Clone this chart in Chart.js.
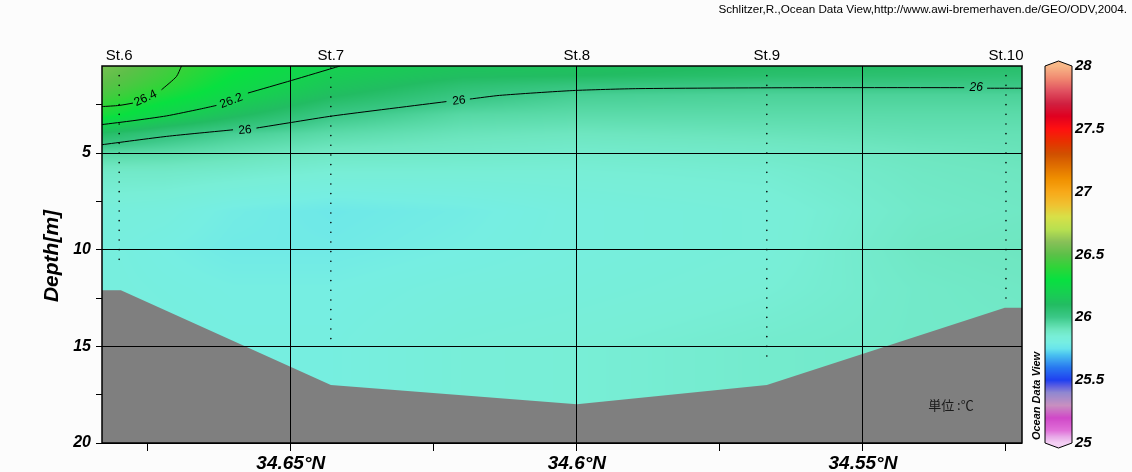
<!DOCTYPE html>
<html>
<head>
<meta charset="utf-8">
<script src="https://cdn.jsdelivr.net/npm/chart.js@4.4.1/dist/chart.umd.min.js"></script>
<style>
  html, body { margin: 0; padding: 0; background: #fcfcfc; }
  #wrap { position: relative; width: 1132px; height: 472px; }
</style>
</head>
<body>
<div id="wrap"><canvas id="odvChart" width="1132" height="472"></canvas></div>
<script>
// stations along the section (latitude, deg N)
const stationNames = ['St.6', 'St.7', 'St.8', 'St.9', 'St.10'];
const stationLats = [34.6800, 34.6430, 34.6000, 34.5668, 34.5250];

// sample depths at each station (m); St.8 samples sit under the 34.6 grid line
const st6Depths = [1, 1.5, 2, 2.5, 3, 3.5, 4, 4.5, 5, 5.5, 6, 6.5, 7, 7.5, 8, 8.5, 9, 9.5, 10, 10.5];
const st7Depths = [0.6, 1.1, 1.6, 2.1, 2.6, 3.1, 3.6, 4.1, 4.6, 5.1, 5.6, 6.1, 6.6, 7.1, 7.6, 8.1, 8.6, 9.1, 9.6, 10.1, 10.6, 11.1, 11.6, 12.1, 12.6, 13.1, 13.6, 14.1, 14.6];
const st8Depths = [];
const st9Depths = [1, 1.5, 2, 2.5, 3, 3.5, 4, 4.5, 5, 5.5, 6, 6.5, 7, 7.5, 8, 8.5, 9, 9.5, 10, 10.5, 11, 11.5, 12, 12.5, 13, 13.5, 14, 14.5, 15, 15.5];
const st10Depths = [1, 1.5, 2, 2.5, 3, 3.5, 4, 4.5, 5, 5.5, 6, 6.5, 7, 7.5, 8, 8.5, 9, 9.5, 10, 10.5, 11, 11.5, 12, 12.5];

// sea bottom
const bottomLats = [34.6830, 34.6797, 34.6430, 34.6000, 34.5668, 34.5252, 34.5222];
const bottomDepths = [12.1, 12.1, 17.0, 18.0, 17.0, 13.0, 13.0];

// gridded temperature (deg C): one column per latitude node
const fieldLats = [34.683, 34.672, 34.660, 34.643, 34.620, 34.600, 34.567, 34.540, 34.522];
const fieldDepths = [0.5, 1, 1.5, 2, 3, 4, 5, 6, 8, 10, 12, 15, 20];
const tempCol1 = [26.56, 26.53, 26.50, 26.46, 26.35, 26.09, 25.95, 25.88, 25.83, 25.82, 25.82, 25.82, 25.82];
const tempCol2 = [26.45, 26.43, 26.40, 26.35, 26.22, 26.03, 25.94, 25.88, 25.82, 25.80, 25.81, 25.82, 25.82];
const tempCol3 = [26.33, 26.30, 26.27, 26.23, 26.12, 25.98, 25.92, 25.87, 25.79, 25.78, 25.80, 25.81, 25.81];
const tempCol4 = [26.21, 26.18, 26.15, 26.11, 26.01, 25.94, 25.89, 25.85, 25.77, 25.78, 25.80, 25.81, 25.81];
const tempCol5 = [26.14, 26.11, 26.06, 26.02, 25.95, 25.91, 25.88, 25.85, 25.79, 25.80, 25.82, 25.84, 25.84];
const tempCol6 = [26.13, 26.10, 26.03, 25.98, 25.94, 25.90, 25.87, 25.85, 25.82, 25.82, 25.83, 25.85, 25.85];
const tempCol7 = [26.10, 26.07, 26.01, 25.97, 25.94, 25.91, 25.88, 25.86, 25.84, 25.84, 25.85, 25.87, 25.87];
const tempCol8 = [26.09, 26.06, 26.01, 25.97, 25.94, 25.92, 25.90, 25.89, 25.88, 25.89, 25.88, 25.88, 25.88];
const tempCol9 = [26.08, 26.05, 26.01, 25.97, 25.94, 25.92, 25.91, 25.90, 25.89, 25.90, 25.89, 25.88, 25.88];
const tempColumns = [tempCol1, tempCol2, tempCol3, tempCol4, tempCol5, tempCol6, tempCol7, tempCol8, tempCol9];

// isotherms (null = gap for the label)
const contour264Lats = [34.6830, 34.6800, 34.6776, null, 34.6726, 34.6700, 34.6691];
const contour264Depths = [2.60, 2.54, 2.42, null, 1.73, 1.05, 0.50];
const contour262Lats = [34.6830, 34.6776, 34.6717, 34.6659, 34.6630, null, 34.6575, 34.6499, 34.6414];
const contour262Depths = [3.53, 3.33, 3.08, 2.73, 2.54, null, 1.90, 1.25, 0.50];
const contour26Lats = [34.6830, 34.6717, 34.6601, null, 34.6560, 34.6499, 34.6426, 34.6228, null, 34.6187, 34.6135, 34.6007, 34.5893, 34.5596, 34.5323, null, 34.5283, 34.5222];
const contour26Depths = [4.57, 4.14, 3.80, null, 3.71, 3.42, 3.08, 2.34, null, 2.21, 2.02, 1.77, 1.67, 1.62, 1.62, null, 1.65, 1.65];

const contourLabelText = ['26.4', '26.2', '26', '26', '26'];
const contourLabelLats = [34.6754, 34.6604, 34.6580, 34.6206, 34.5302];
const contourLabelDepths = [2.17, 2.31, 3.82, 2.30, 1.63];

// axes
const latTicks = [34.675, 34.65, 34.625, 34.6, 34.575, 34.55, 34.525];
const latMajor = [34.65, 34.6, 34.55];
const depthTicks = [2.5, 5, 7.5, 10, 12.5, 15, 17.5, 20];
const depthMajor = [5, 10, 15, 20];

// colour scale
const cmapValues = [25.0, 25.05, 25.1, 25.2, 25.3, 25.4, 25.45, 25.5, 25.6, 25.7, 25.75, 25.8, 25.85, 25.9, 25.95, 26.0, 26.1, 26.2, 26.3, 26.4, 26.5, 26.6, 26.7, 26.8, 26.9, 27.0, 27.1, 27.2, 27.3, 27.4, 27.5, 27.6, 27.7, 27.8, 27.9, 28.0];
const cmapColors = ['#f4d0f4', '#e8a8e8', '#e070d8', '#d048c8', '#c890c0', '#9088d0', '#6060e0', '#2040f0', '#2878f0', '#48c0f0', '#68e4ec', '#76eee2', '#78eed6', '#6ee6c0', '#56d8a4', '#3cc888', '#22bc62', '#16d050', '#08e040', '#30d438', '#5cc048', '#88c058', '#b8e050', '#d8e048', '#f0c030', '#f8a818', '#f09000', '#e07000', '#d05000', '#e83000', '#ff1010', '#e00020', '#d02040', '#e05060', '#f08870', '#f8b888'];

const FONT = "'Liberation Sans', Arial, sans-serif";

function hexRgb(h) {
     return [parseInt(h.substr(1, 2), 16), parseInt(h.substr(3, 2), 16), parseInt(h.substr(5, 2), 16)];
}
const cmapRgb = cmapColors.map(hexRgb);

function tempColor(v) {
     if (v <= cmapValues[0]) return cmapRgb[0];
     const n = cmapValues.length - 1;
     if (v >= cmapValues[n]) return cmapRgb[n];
     let i = 0;
     while (v > cmapValues[i + 1]) i++;
     const t = (v - cmapValues[i]) / (cmapValues[i + 1] - cmapValues[i]);
     const a = cmapRgb[i], b = cmapRgb[i + 1];
     return [a[0] + (b[0] - a[0]) * t, a[1] + (b[1] - a[1]) * t, a[2] + (b[2] - a[2]) * t];
}

function findCell(arr, v, desc) {
     let i = 0;
     if (desc) {
          while (i < arr.length - 2 && v < arr[i + 1]) i++;
          let t = (arr[i] - v) / (arr[i] - arr[i + 1]);
          return [i, Math.max(0, Math.min(1, t))];
     }
     while (i < arr.length - 2 && v > arr[i + 1]) i++;
     let t = (v - arr[i]) / (arr[i + 1] - arr[i]);
     return [i, Math.max(0, Math.min(1, t))];
}

function tempAt(lat, depth) {
     const [i, t] = findCell(fieldLats, lat, true);
     const [j, s] = findCell(fieldDepths, depth, false);
     const a = tempColumns[i], b = tempColumns[i + 1];
     const top = a[j] * (1 - t) + b[j] * t;
     const bot = a[j + 1] * (1 - t) + b[j + 1] * t;
     return top * (1 - s) + bot * s;
}

function toPoints(lats, depths) {
     return lats.map((lat, k) => ({ x: lat, y: depths[k] }));
}

function isMajor(v, list) {
     return list.some(m => Math.abs(m - v) < 1e-6);
}

// temperature field and sea bottom, under the grid lines
const fieldPlugin = {
     id: 'field',
     beforeDraw(chart) {
          const ctx = chart.ctx;
          const area = chart.chartArea;
          const xs = chart.scales.x, ys = chart.scales.y;
          ctx.save();
          ctx.fillStyle = '#fcfcfc';
          ctx.fillRect(0, 0, chart.width, chart.height);

          const w = Math.round(area.right - area.left), h = Math.round(area.bottom - area.top);
          const img = ctx.createImageData(w, h);
          const lats = [];
          for (let px = 0; px < w; px++) lats.push(xs.getValueForPixel(area.left + px + 0.5));
          for (let py = 0; py < h; py++) {
               const depth = ys.getValueForPixel(area.top + py + 0.5);
               for (let px = 0; px < w; px++) {
                    const c = tempColor(tempAt(lats[px], depth));
                    const k = (py * w + px) * 4;
                    img.data[k] = c[0];
                    img.data[k + 1] = c[1];
                    img.data[k + 2] = c[2];
                    img.data[k + 3] = 255;
               }
          }
          ctx.putImageData(img, Math.round(area.left), Math.round(area.top));

          // sea bottom
          ctx.beginPath();
          bottomLats.forEach((lat, k) => {
               const px = xs.getPixelForValue(lat), py = ys.getPixelForValue(bottomDepths[k]);
               if (k === 0) ctx.moveTo(px, py); else ctx.lineTo(px, py);
          });
          ctx.lineTo(xs.getPixelForValue(bottomLats[bottomLats.length - 1]), ys.getPixelForValue(20));
          ctx.lineTo(xs.getPixelForValue(bottomLats[0]), ys.getPixelForValue(20));
          ctx.closePath();
          ctx.fillStyle = '#7f7f7f';
          ctx.fill();
          ctx.restore();
     }
};

const labelAngles = [-25, -21, -5, -6, 0];

const overlayPlugin = {
     id: 'overlay',
     afterDraw(chart) {
          const ctx = chart.ctx;
          const area = chart.chartArea;
          const xs = chart.scales.x, ys = chart.scales.y, cb = chart.scales.cb;
          ctx.save();

          // frame
          ctx.strokeStyle = '#000';
          ctx.lineWidth = 1.5;
          ctx.strokeRect(area.left, area.top, area.right - area.left, area.bottom - area.top);

          // contour labels
          ctx.fillStyle = '#000';
          ctx.font = `12px ${FONT}`;
          ctx.textAlign = 'center';
          ctx.textBaseline = 'middle';
          contourLabelText.forEach((txt, k) => {
               ctx.save();
               ctx.translate(xs.getPixelForValue(contourLabelLats[k]), ys.getPixelForValue(contourLabelDepths[k]));
               ctx.rotate(labelAngles[k] * Math.PI / 180);
               if (k === 4) ctx.font = `italic 12px ${FONT}`;
               ctx.fillText(txt, 0, 0);
               ctx.restore();
          });

          // station names
          ctx.font = `15px ${FONT}`;
          ctx.textBaseline = 'alphabetic';
          stationNames.forEach((name, k) => {
               ctx.fillText(name, xs.getPixelForValue(stationLats[k]), 60);
          });

          // unit
          ctx.font = `13px 'Noto Sans CJK JP', ${FONT}`;
          ctx.textAlign = 'left';
          ctx.textBaseline = 'middle';
          ctx.fillStyle = '#1a1a1a';
          ctx.fillText('単位 :℃', xs.getPixelForValue(34.5386), ys.getPixelForValue(18.04));

          // axis title
          ctx.fillStyle = '#000';
          ctx.font = `italic bold 21px ${FONT}`;
          ctx.textAlign = 'center';
          ctx.save();
          ctx.translate(52, 256);
          ctx.rotate(-Math.PI / 2);
          ctx.fillText('Depth[m]', 0, 0);
          ctx.restore();

          // colour bar
          const x0 = cb.left + 23, x1 = cb.left + 50, xm = (x0 + x1) / 2;
          const yTop = cb.getPixelForValue(28), yBot = cb.getPixelForValue(25);
          for (let y = Math.floor(yTop); y < Math.ceil(yBot); y++) {
               const c = tempColor(cb.getValueForPixel(y + 0.5));
               ctx.fillStyle = `rgb(${c[0]},${c[1]},${c[2]})`;
               ctx.fillRect(x0, y, x1 - x0, 1);
          }
          ctx.fillStyle = cmapColors[cmapColors.length - 1];
          ctx.beginPath(); ctx.moveTo(x0, yTop); ctx.lineTo(xm, yTop - 5); ctx.lineTo(x1, yTop); ctx.closePath(); ctx.fill();
          ctx.fillStyle = cmapColors[0];
          ctx.beginPath(); ctx.moveTo(x0, yBot); ctx.lineTo(xm, yBot + 5); ctx.lineTo(x1, yBot); ctx.closePath(); ctx.fill();
          ctx.beginPath();
          ctx.moveTo(x0, yTop); ctx.lineTo(xm, yTop - 5); ctx.lineTo(x1, yTop);
          ctx.lineTo(x1, yBot); ctx.lineTo(xm, yBot + 5); ctx.lineTo(x0, yBot); ctx.closePath();
          ctx.lineWidth = 1;
          ctx.strokeStyle = '#000';
          ctx.stroke();

          ctx.fillStyle = '#000';
          ctx.font = `italic bold 11px ${FONT}`;
          ctx.save();
          ctx.translate(1037, 396);
          ctx.rotate(-Math.PI / 2);
          ctx.fillText('Ocean Data View', 0, 0);
          ctx.restore();

          // credit
          ctx.font = `11.7px ${FONT}`;
          ctx.textAlign = 'right';
          ctx.fillText('Schlitzer,R.,Ocean Data View,http://www.awi-bremerhaven.de/GEO/ODV,2004.', 1127, 10);

          ctx.restore();
     }
};

const contourStyle = { showLine: true, borderColor: '#000', borderWidth: 1, pointRadius: 0, tension: 0.2, spanGaps: false };
const dotStyle = { showLine: false, pointRadius: 0.8, pointBorderWidth: 0, backgroundColor: '#000' };

const stationDepthLists = [st6Depths, st7Depths, st8Depths, st9Depths, st10Depths];
const dotDatasets = stationDepthLists.map((list, k) => ({
     label: stationNames[k],
     data: list.map(d => ({ x: stationLats[k], y: d })),
     ...dotStyle
}));

Chart.defaults.color = '#000';
Chart.defaults.font.family = FONT;

const ctx = document.getElementById('odvChart').getContext('2d');
window.odvChart = new Chart(ctx, {
     type: 'scatter',
     data: {
          datasets: [
               { label: '26.4', data: toPoints(contour264Lats, contour264Depths), ...contourStyle },
               { label: '26.2', data: toPoints(contour262Lats, contour262Depths), ...contourStyle },
               { label: '26', data: toPoints(contour26Lats, contour26Depths), ...contourStyle },
               ...dotDatasets
          ]
     },
     options: {
          responsive: false,
          animation: false,
          devicePixelRatio: 1,
          layout: { padding: { top: 66, left: 0, right: 0, bottom: 0 } },
          plugins: {
               legend: { display: false },
               tooltip: { enabled: false }
          },
          scales: {
               x: {
                    type: 'linear',
                    reverse: true,
                    min: 34.5222,
                    max: 34.6830,
                    afterBuildTicks: (s) => { s.ticks = latTicks.map(v => ({ value: v })); },
                    afterFit: (s) => { s.height = 29; },
                    grid: {
                         color: (c) => isMajor(c.tick.value, latMajor) ? '#000' : 'rgba(0,0,0,0)',
                         tickColor: '#000',
                         tickLength: 8,
                         lineWidth: 1
                    },
                    border: { display: false },
                    ticks: {
                         autoSkip: false,
                         maxRotation: 0,
                         padding: 1,
                         font: { size: 19, weight: 'bold', style: 'italic' },
                         callback: (v) => isMajor(v, latMajor) ? `${+v.toFixed(3)}°N` : ''
                    }
               },
               y: {
                    type: 'linear',
                    reverse: true,
                    min: 0.5,
                    max: 20,
                    afterBuildTicks: (s) => { s.ticks = depthTicks.map(v => ({ value: v })); },
                    afterFit: (s) => { s.width = 102; },
                    grid: {
                         color: (c) => isMajor(c.tick.value, depthMajor) ? '#000' : 'rgba(0,0,0,0)',
                         tickColor: '#000',
                         tickLength: 6,
                         lineWidth: 1
                    },
                    border: { display: false },
                    ticks: {
                         autoSkip: false,
                         padding: 5,
                         font: { size: 16, weight: 'bold', style: 'italic' },
                         callback: (v) => isMajor(v, depthMajor) ? String(v) : ''
                    }
               },
               cb: {
                    axis: 'y',
                    type: 'linear',
                    position: 'right',
                    min: 25,
                    max: 28,
                    afterFit: (s) => { s.width = 110; },
                    grid: { display: true, drawOnChartArea: false, drawTicks: true, tickLength: 53, tickColor: 'rgba(0,0,0,0)', color: 'rgba(0,0,0,0)' },
                    border: { display: false },
                    ticks: {
                         stepSize: 0.5,
                         padding: 0,
                         font: { size: 15, weight: 'bold', style: 'italic' },
                         callback: (v) => String(v)
                    }
               }
          }
     },
     plugins: [fieldPlugin, overlayPlugin]
});
</script>
</body>
</html>
